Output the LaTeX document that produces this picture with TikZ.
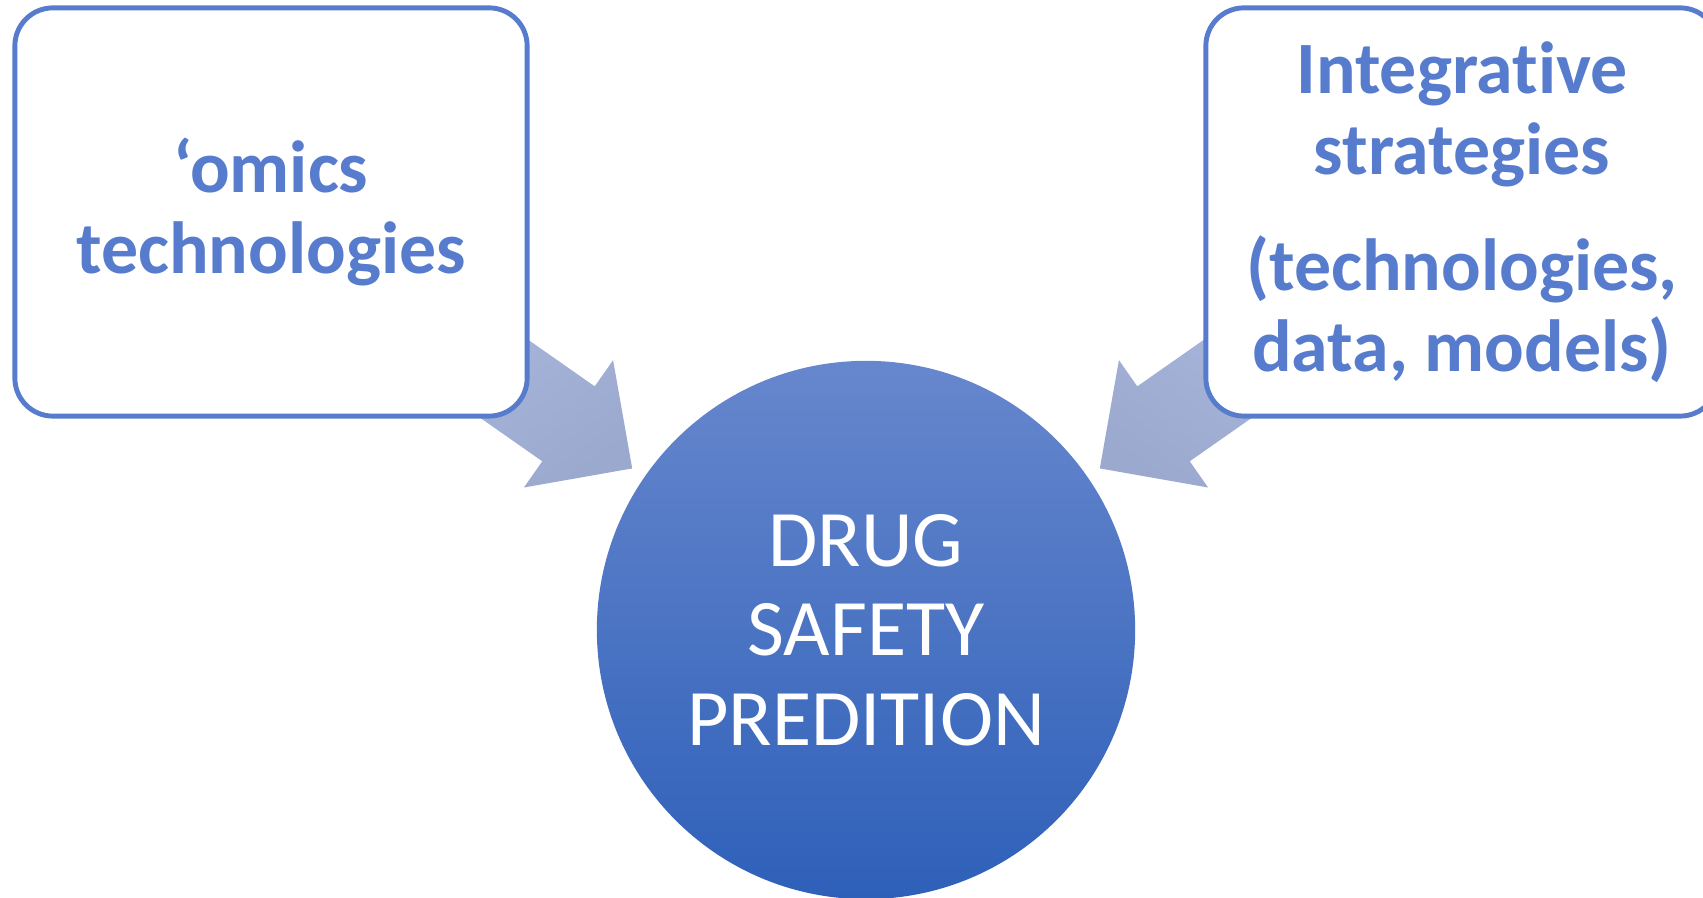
\documentclass[tikz,border=0pt]{standalone}
\usepackage{fontspec}
\setmainfont{Carlito}[Ligatures={NoCommon}]
\usetikzlibrary{shapes.arrows,positioning,calc}
\definecolor{boxblue}{HTML}{577CCD}
\definecolor{arrowtop}{HTML}{AAB7DE}
\definecolor{arrowbot}{HTML}{9CA9CE}
\definecolor{circtop}{HTML}{6787CD}
\definecolor{circbot}{HTML}{2E60B9}
\tikzstyle{sourcebox}=[draw=boxblue, line width=1.4pt, fill=white, rounded corners=0.38cm, minimum width=5.12cm, minimum height=4.08cm, align=center, text=boxblue, font=\fontsize{21}{23}\selectfont\bfseries]
\tikzstyle{goal}=[circle, minimum size=5.38cm, inner sep=0pt, top color=circtop, bottom color=circbot, text=white, align=center, font=\fontsize{22.8}{25.5}\selectfont]
\tikzstyle{blockarrow}=[single arrow, single arrow head extend=0.32cm, single arrow tip angle=90, inner xsep=0pt, inner ysep=0.45cm, minimum height=2.4cm, top color=arrowtop, bottom color=arrowbot, shading angle=35, anchor=tip]

\begin{document}
\begin{tikzpicture}[x=0.01cm, y=-0.01cm]
    \useasboundingbox (0,0) rectangle (1703,898);

    % target
    \node[goal] (drug) at (866,630) {DRUG\\SAFETY\\PREDITION};

    % arrow tips
    \coordinate (tipL) at ($(drug.center)+(-233,-161)$);
    \coordinate (tipR) at ($(drug.center)+(233,-161)$);

    % arrows
    \node[blockarrow, rotate=-35] (arrL) at (tipL) {};
    \node[blockarrow, rotate=-145, shading angle=-35] (arrR) at (tipR) {};

    % sources
    \node[sourcebox] (omics) at (271,212) {`omics\\technologies};
    \node[sourcebox] (integr) at (1462,212) {Integrative\\strategies\\[0.35cm](technologies,\\data, models)};
\end{tikzpicture}
\end{document}
